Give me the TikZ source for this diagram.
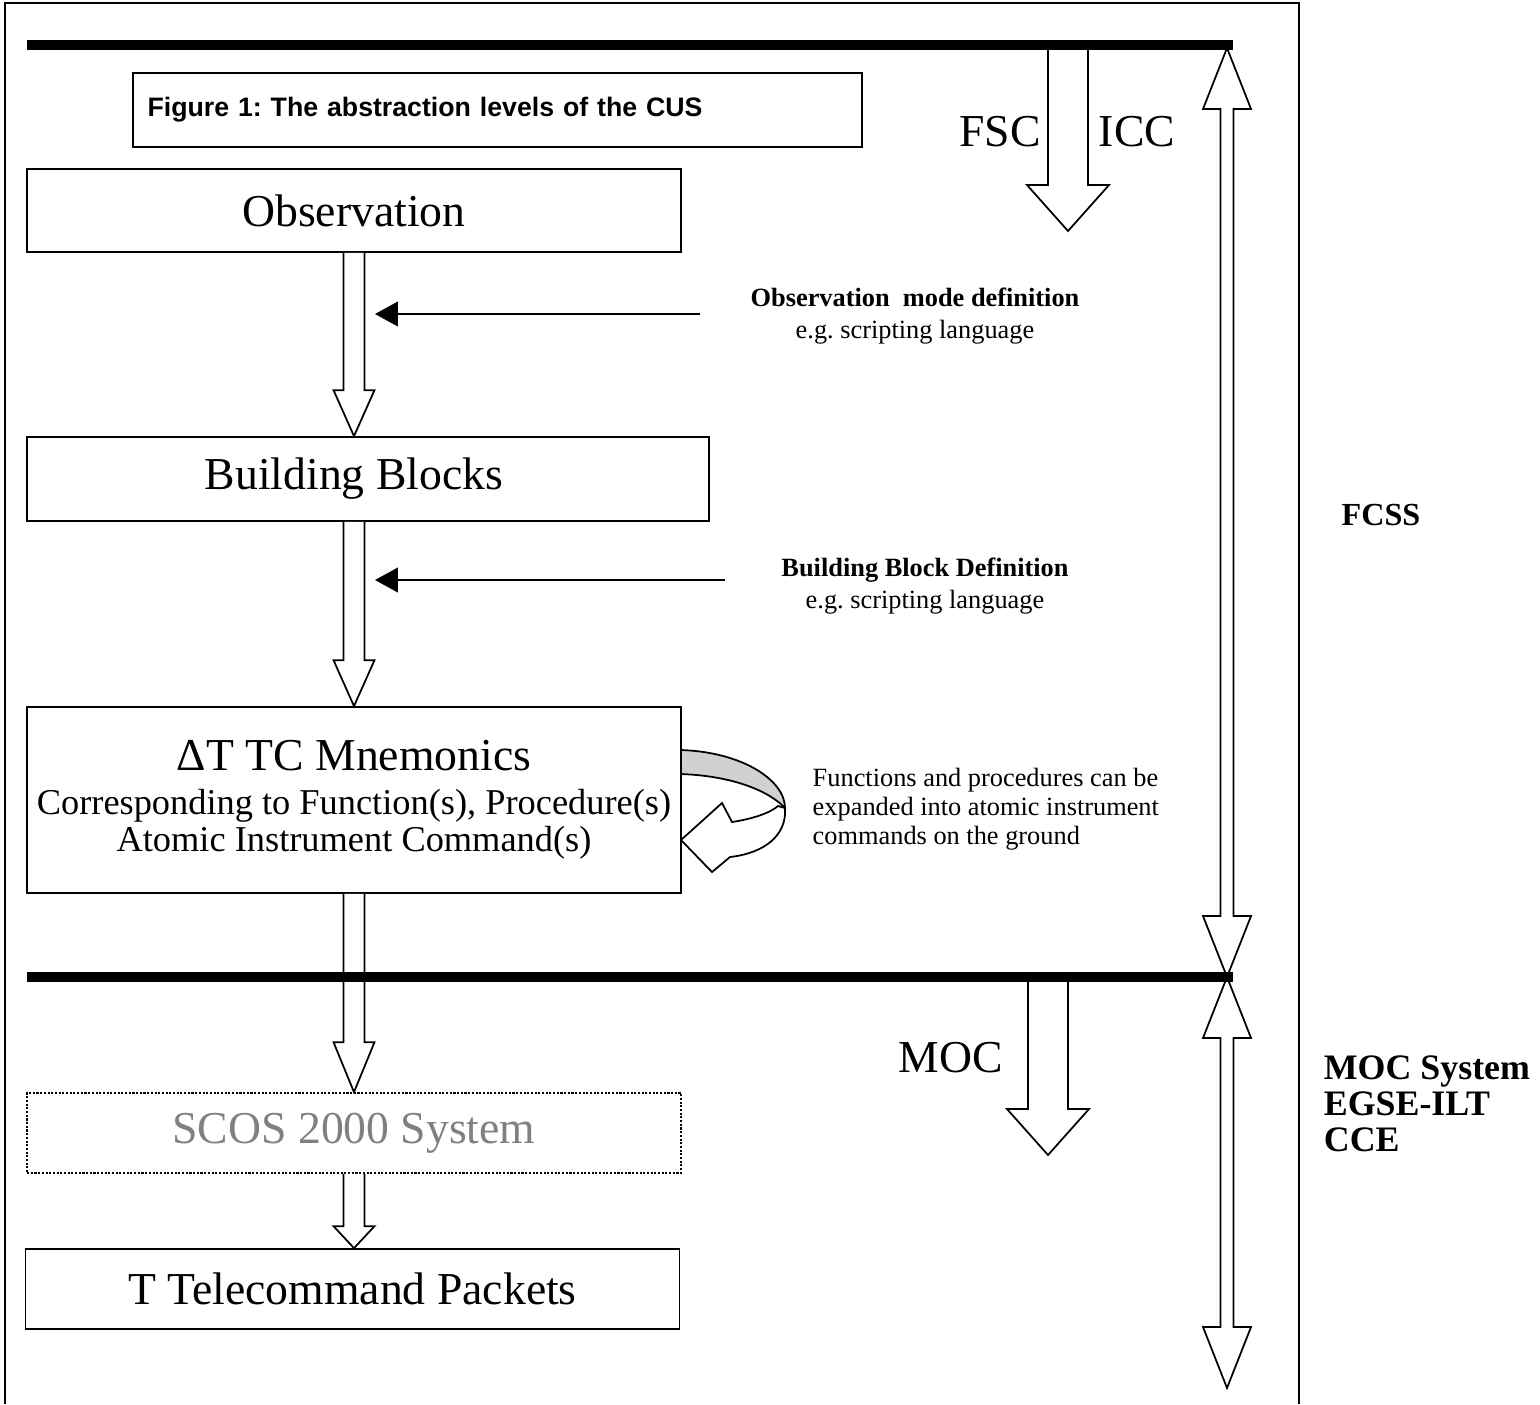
\documentclass[tikz,border=0pt]{standalone}
\usepackage{fontspec}
\setmainfont{Liberation Serif}
\newfontfamily\arialfont{Liberation Sans}
\usetikzlibrary{calc}
\usetikzlibrary{arrows.meta}
\frenchspacing

% hollow block arrow: start, tip, half shaft, half head, head length
\newcommand{\fatarrow}[5]{%
  \draw[fill=white] ($(#1)+(-#3,0)$) -- ($(#2)+(-#3,-#5)$) -- ($(#2)+(-#4,-#5)$) -- (#2)
    -- ($(#2)+(#4,-#5)$) -- ($(#2)+(#3,-#5)$) -- ($(#1)+(#3,0)$);
}
% hollow arrow with two heads
\newcommand{\twowayarrow}[5]{%
  \draw[fill=white] (#1) -- ($(#1)+(#4,#5)$) -- ($(#1)+(#3,#5)$) -- ($(#2)+(#3,-#5)$)
    -- ($(#2)+(#4,-#5)$) -- (#2) -- ($(#2)+(-#4,-#5)$) -- ($(#2)+(-#3,-#5)$)
    -- ($(#1)+(-#3,#5)$) -- ($(#1)+(-#4,#5)$) -- cycle;
}

\begin{document}
\begin{tikzpicture}[x=0.02cm,y=-0.02cm,line width=1pt,
  level/.style={draw,minimum width=13.08cm,minimum height=1.66cm,font=\fontsize{26}{30}\selectfont},
  note/.style={align=center,font=\fontsize{15}{18}\selectfont},
  big label/.style={font=\fontsize{26}{30}\selectfont},
  bar/.style={line width=5.7pt},
  pointer/.style={-{Triangle[length=13pt,width=14pt]}}]

\useasboundingbox (0,0) rectangle (1540,1404);
\draw (5,1404) -- (5,3) -- (1299,3) -- (1299,1404);

\node[draw,minimum width=14.58cm,minimum height=1.48cm,text width=14cm,inner xsep=0.29cm,align=left,
  font=\arialfont\bfseries\fontsize{15.2}{18}\selectfont] (caption) at (497.5,110) {Figure 1: The abstraction levels of the CUS};

\node[level] (obs) at (354,210.5) {Observation};
\node[level,minimum width=13.64cm,minimum height=1.68cm] (bb) at (368,479) {\hspace*{-0.56cm}Building Blocks};
\node[level,minimum height=3.72cm,align=center,font=\fontsize{20.7}{21}\selectfont] (dt) at (354,800)
  {{\fontsize{26}{30}\selectfont ΔT TC Mnemonics}\\[4pt]
   Corresponding to Function(s), Procedure(s)\\
   Atomic Instrument Command(s)};
\node[level,dash pattern=on 1.2pt off 0.9pt,text=black!50,minimum height=1.6cm] (scos) at (354,1133) {SCOS 2000 System};
\node[level,minimum height=1.6cm] (tc) at (352.5,1289) {T Telecommand Packets};

\fatarrow{obs.south}{obs.south |- bb.north}{10.5}{20.5}{46}
\fatarrow{dt.north |- bb.south}{dt.north}{10.5}{20.5}{46}
\fatarrow{dt.south}{dt.south |- scos.north}{10.5}{20.5}{50}
\fatarrow{scos.south}{scos.south |- tc.north}{10.5}{20.5}{22}

\node[note] (obsdef) at (915,316) {\textbf{Observation\ \ mode definition}\\e.g. scripting language};
\node[note] (bbdef) at (925,586) {\textbf{Building Block Definition}\\e.g. scripting language};
\coordinate (obsfrom) at (700,314);
\coordinate (obsto) at (375,314);
\coordinate (bbfrom) at (725,580);
\coordinate (bbto) at (375,580);
\draw[pointer] (obsfrom) -- (obsto);
\draw[pointer] (bbfrom) -- (bbto);

% expansion loop on the mnemonics box
\filldraw[fill=black!18] (681,750) .. controls (742,752) and (785,780) .. (785,808)
  .. controls (770,792) and (735,776) .. (681,774) -- cycle;
\filldraw[fill=white] (785,808) .. controls (787,835) and (765,853) .. (730,857) -- (712,872) -- (681,840)
  -- (722,803) -- (732,822) .. controls (752,819) and (770,813) .. (778,806) -- cycle;
\node[anchor=west,align=left,font=\fontsize{15}{16.4}\selectfont] (expand) at (806,809)
  {Functions and procedures can be\\expanded into atomic instrument\\commands on the ground};

\coordinate (topbarW) at (27,45);
\coordinate (topbarE) at (1233,45);
\coordinate (midbarW) at (27,977);
\coordinate (midbarE) at (1233,977);
\coordinate (fscstart) at (1068,45);
\coordinate (fscend) at (1068,231);
\coordinate (mocstart) at (1048,977);
\coordinate (mocend) at (1048,1155);
\coordinate (fcssup) at (1227,48);
\coordinate (fcssdown) at (1227,977);
\coordinate (mocdown) at (1227,1388);

\fatarrow{fscstart}{fscend}{20}{41}{46}
\fatarrow{mocstart}{mocend}{20}{41}{46}
\twowayarrow{fcssup}{fcssdown}{6.5}{24}{61}
\twowayarrow{fcssdown}{mocdown}{6.5}{24}{61}
\draw[bar] (topbarW) -- (topbarE);
\draw[bar] (midbarW) -- (midbarE);

\node[big label] (fsc) at (1000,132) {FSC};
\node[big label] (icc) at (1137,132) {ICC};
\node[big label] (moc) at (951,1058) {MOC};
\node[font=\bfseries\fontsize{18.3}{22}\selectfont] (fcss) at (1381,515) {FCSS};
\node[anchor=west,align=left,inner sep=0pt,font=\bfseries\fontsize{20.4}{20.4}\selectfont] (ground) at (1323,1104)
  {MOC System\\EGSE-ILT\\CCE};

\end{tikzpicture}
\end{document}
